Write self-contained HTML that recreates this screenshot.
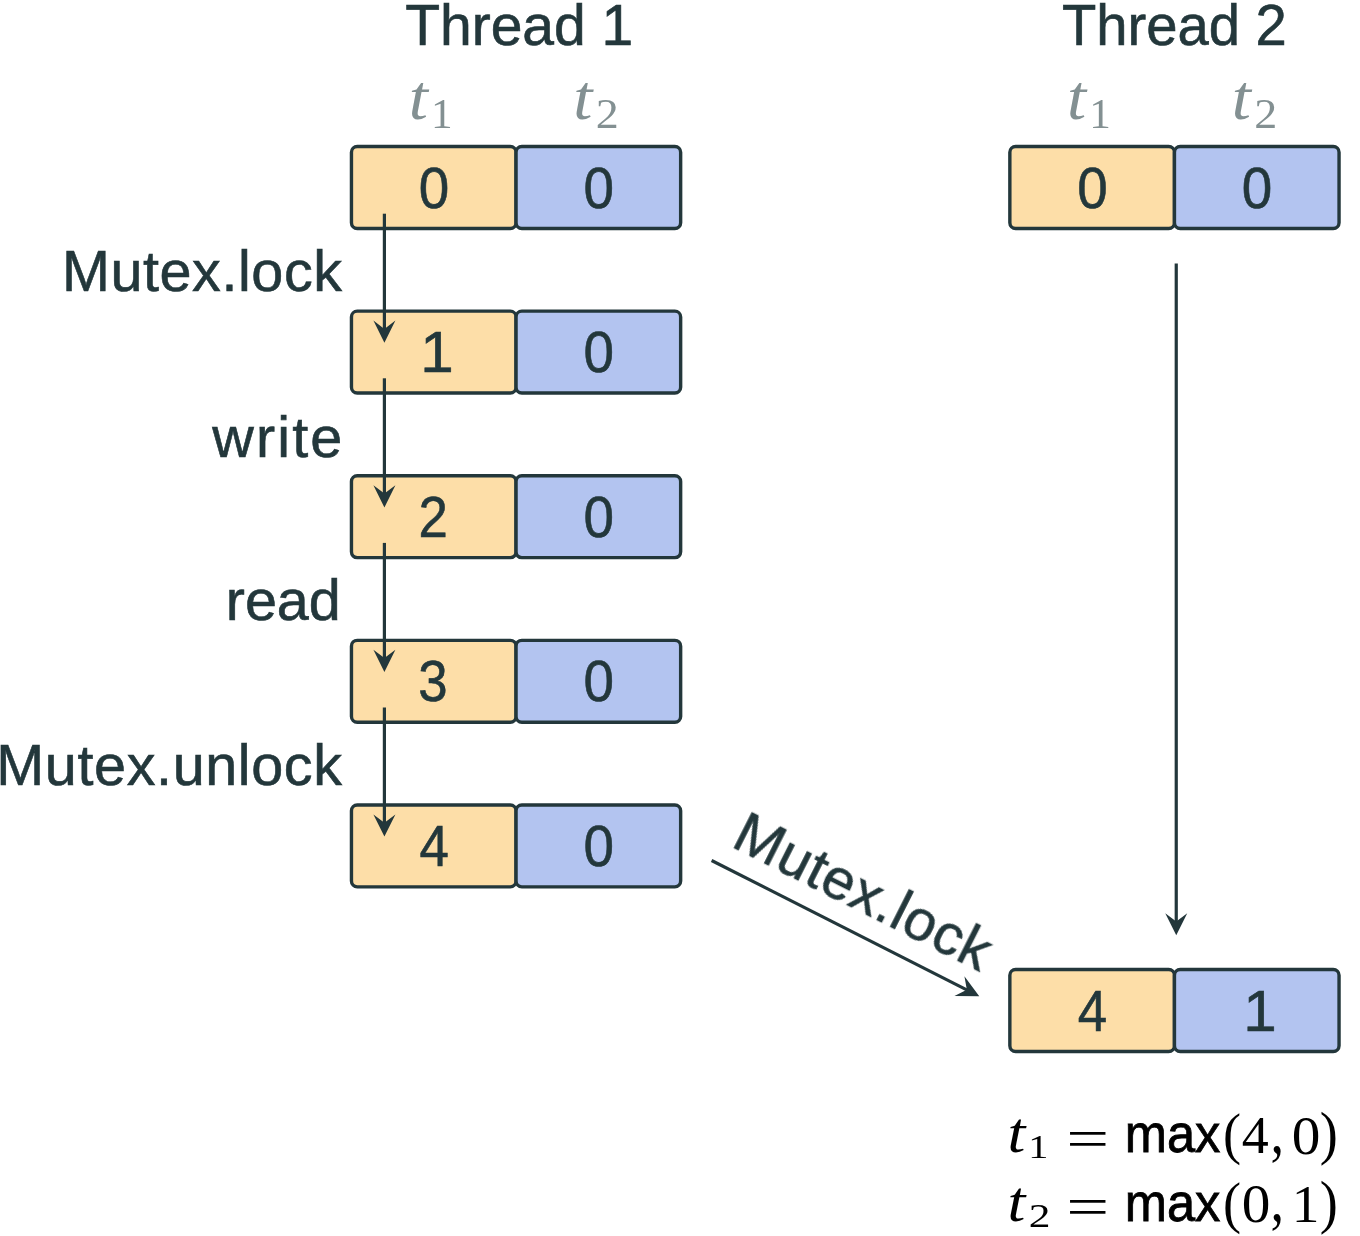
<!DOCTYPE html>
<html lang="en">
<head>
<meta charset="utf-8">
<title>Vector clocks with Mutex.lock</title>
<style>
html,body{margin:0;padding:0;background:#fff;}
body{width:1360px;height:1236px;overflow:hidden;}
svg{display:block;}
text{white-space:pre;}
.s{font-family:"Liberation Sans",sans-serif;font-size:57.5px;fill:#23373b;stroke:#23373b;stroke-width:0.6px;}
.mi{font-family:"Liberation Serif",serif;font-style:italic;}
.mr{font-family:"Liberation Serif",serif;}
</style>
</head>
<body>
<svg width="1360" height="1236" viewBox="0 0 1360 1236">
<rect x="0" y="0" width="1360" height="1236" fill="#ffffff"/>
<g id="shapes">
<rect x="351.45" y="146.55" width="164.60" height="81.90" rx="5.8" ry="5.8" fill="#fddea8" stroke="#23373b" stroke-width="3.4"/>
<rect x="516.05" y="146.55" width="164.60" height="81.90" rx="5.8" ry="5.8" fill="#b3c4f0" stroke="#23373b" stroke-width="3.4"/>
<rect x="351.45" y="311.15" width="164.60" height="81.90" rx="5.8" ry="5.8" fill="#fddea8" stroke="#23373b" stroke-width="3.4"/>
<rect x="516.05" y="311.15" width="164.60" height="81.90" rx="5.8" ry="5.8" fill="#b3c4f0" stroke="#23373b" stroke-width="3.4"/>
<rect x="351.45" y="475.75" width="164.60" height="81.90" rx="5.8" ry="5.8" fill="#fddea8" stroke="#23373b" stroke-width="3.4"/>
<rect x="516.05" y="475.75" width="164.60" height="81.90" rx="5.8" ry="5.8" fill="#b3c4f0" stroke="#23373b" stroke-width="3.4"/>
<rect x="351.45" y="640.35" width="164.60" height="81.90" rx="5.8" ry="5.8" fill="#fddea8" stroke="#23373b" stroke-width="3.4"/>
<rect x="516.05" y="640.35" width="164.60" height="81.90" rx="5.8" ry="5.8" fill="#b3c4f0" stroke="#23373b" stroke-width="3.4"/>
<rect x="351.45" y="804.95" width="164.60" height="81.90" rx="5.8" ry="5.8" fill="#fddea8" stroke="#23373b" stroke-width="3.4"/>
<rect x="516.05" y="804.95" width="164.60" height="81.90" rx="5.8" ry="5.8" fill="#b3c4f0" stroke="#23373b" stroke-width="3.4"/>
<rect x="1009.85" y="146.55" width="164.60" height="81.90" rx="5.8" ry="5.8" fill="#fddea8" stroke="#23373b" stroke-width="3.4"/>
<rect x="1174.45" y="146.55" width="164.60" height="81.90" rx="5.8" ry="5.8" fill="#b3c4f0" stroke="#23373b" stroke-width="3.4"/>
<rect x="1009.85" y="969.55" width="164.60" height="81.90" rx="5.8" ry="5.8" fill="#fddea8" stroke="#23373b" stroke-width="3.4"/>
<rect x="1174.45" y="969.55" width="164.60" height="81.90" rx="5.8" ry="5.8" fill="#b3c4f0" stroke="#23373b" stroke-width="3.4"/>
<g transform="translate(384.40 213.70) rotate(90.000)"><line x1="0" y1="0" x2="116.20" y2="0" stroke="#23373b" stroke-width="3.2"/><path d="M129.10 0 L106.90 -11.00 L115.20 0 L106.90 11.00 Z" fill="#23373b"/></g>
<g transform="translate(384.40 378.30) rotate(90.000)"><line x1="0" y1="0" x2="116.20" y2="0" stroke="#23373b" stroke-width="3.2"/><path d="M129.10 0 L106.90 -11.00 L115.20 0 L106.90 11.00 Z" fill="#23373b"/></g>
<g transform="translate(384.40 542.90) rotate(90.000)"><line x1="0" y1="0" x2="116.20" y2="0" stroke="#23373b" stroke-width="3.2"/><path d="M129.10 0 L106.90 -11.00 L115.20 0 L106.90 11.00 Z" fill="#23373b"/></g>
<g transform="translate(384.40 707.50) rotate(90.000)"><line x1="0" y1="0" x2="116.20" y2="0" stroke="#23373b" stroke-width="3.2"/><path d="M129.10 0 L106.90 -11.00 L115.20 0 L106.90 11.00 Z" fill="#23373b"/></g>
<g transform="translate(1176.25 263.50) rotate(90.000)"><line x1="0" y1="0" x2="658.95" y2="0" stroke="#23373b" stroke-width="3.2"/><path d="M671.85 0 L649.65 -11.00 L657.95 0 L649.65 11.00 Z" fill="#23373b"/></g>
<g transform="translate(711.60 860.50) rotate(26.877)"><line x1="0" y1="0" x2="287.16" y2="0" stroke="#23373b" stroke-width="3.2"/><path d="M300.06 0 L277.86 -11.00 L286.16 0 L277.86 11.00 Z" fill="#23373b"/></g>
</g>
<g id="labels" style="will-change:opacity">
<text class="s" transform="matrix(0.9915 0 0 1.0000 405.16 44.50)">Thread 1</text>
<text class="s" transform="matrix(0.9773 0 0 1.0000 1061.93 44.50)">Thread 2</text>
<text class="s" transform="matrix(1.0000 0 0 1.0000 61.94 291.10)" style="letter-spacing:0.58px">Mutex.lock</text>
<text class="s" transform="matrix(1.0000 0 0 1.0000 212.37 457.00)" style="letter-spacing:2.13px">write</text>
<text class="s" transform="matrix(0.9994 0 0 1.0000 225.75 620.40)">read</text>
<text class="s" transform="matrix(1.0000 0 0 1.0000 -3.71 784.80)" style="letter-spacing:0.63px">Mutex.unlock</text>
<text class="s" transform="translate(733.70 847.90) rotate(26.75) matrix(1.0000 0 0 1.0000 -4.31 0)" style="letter-spacing:0.54px">Mutex.lock</text>
<text class="s" transform="matrix(0.9529 0 0 1.0000 418.83 207.50)">0</text>
<text class="s" transform="matrix(0.9529 0 0 1.0000 583.43 207.50)">0</text>
<text class="s" transform="matrix(1.0463 0 0 1.0000 420.18 372.10)">1</text>
<text class="s" transform="matrix(0.9529 0 0 1.0000 583.43 372.10)">0</text>
<text class="s" transform="matrix(0.9177 0 0 1.0000 418.38 536.70)">2</text>
<text class="s" transform="matrix(0.9529 0 0 1.0000 583.43 536.70)">0</text>
<text class="s" transform="matrix(0.9170 0 0 1.0000 418.32 701.30)">3</text>
<text class="s" transform="matrix(0.9529 0 0 1.0000 583.43 701.30)">0</text>
<text class="s" transform="matrix(0.9189 0 0 1.0000 419.38 865.90)">4</text>
<text class="s" transform="matrix(0.9529 0 0 1.0000 583.43 865.90)">0</text>
<text class="s" transform="matrix(0.9529 0 0 1.0000 1077.23 207.50)">0</text>
<text class="s" transform="matrix(0.9529 0 0 1.0000 1241.83 207.50)">0</text>
<text class="s" transform="matrix(0.9189 0 0 1.0000 1077.78 1030.50)">4</text>
<text class="s" transform="matrix(1.0463 0 0 1.0000 1243.18 1030.50)">1</text>
<text class="mi" transform="matrix(1.1109 0 0 1.0218 408.69 119.44)" style="font-size:62px;fill:#839092">t</text>
<text class="mr" transform="matrix(1.0063 0 0 0.9981 430.92 127.90)" style="font-size:43px;fill:#839092">1</text>
<text class="mi" transform="matrix(1.1109 0 0 1.0218 573.29 119.44)" style="font-size:62px;fill:#839092">t</text>
<text class="mr" transform="matrix(1.0717 0 0 0.9964 595.85 127.90)" style="font-size:43px;fill:#839092">2</text>
<text class="mi" transform="matrix(1.1109 0 0 1.0218 1067.09 119.44)" style="font-size:62px;fill:#839092">t</text>
<text class="mr" transform="matrix(1.0063 0 0 0.9981 1089.32 127.90)" style="font-size:43px;fill:#839092">1</text>
<text class="mi" transform="matrix(1.1109 0 0 1.0218 1231.69 119.44)" style="font-size:62px;fill:#839092">t</text>
<text class="mr" transform="matrix(1.0717 0 0 0.9964 1254.25 127.90)" style="font-size:43px;fill:#839092">2</text>
<text class="mi" transform="matrix(1.1076 0 0 0.9802 1007.47 1151.95)" style="font-size:58px;fill:#000000">t</text>
<text class="mr" transform="matrix(1.1208 0 0 0.9458 1028.33 1158.20)" style="font-size:36px;fill:#000000">1</text>
<text class="mr" transform="matrix(1.2693 0 0 0.9067 1066.29 1156.68)" style="font-size:60px;fill:#000000">=</text>
<text class="s" transform="matrix(0.9375 0 0 0.9883 1124.73 1152.26)" style="font-size:54px;fill:#000000;stroke:#000000;stroke-width:0.8px">max</text>
<text class="mr" transform="matrix(0.9197 0 0 0.9812 1222.99 1153.30)" style="font-size:59px;fill:#000000">(</text>
<text class="mr" transform="matrix(0.9648 0 0 0.9474 1241.83 1152.90)" style="font-size:56px;fill:#000000">4</text>
<text class="mr" transform="matrix(0.9354 0 0 1.1465 1270.52 1152.51)" style="font-size:58px;fill:#000000">,</text>
<text class="mr" transform="matrix(1.0230 0 0 0.9658 1291.87 1153.55)" style="font-size:56px;fill:#000000">0</text>
<text class="mr" transform="matrix(0.9209 0 0 0.9873 1319.84 1153.31)" style="font-size:59px;fill:#000000">)</text>
<text class="mi" transform="matrix(1.1076 0 0 0.9802 1007.47 1220.75)" style="font-size:58px;fill:#000000">t</text>
<text class="mr" transform="matrix(1.2068 0 0 0.9417 1028.66 1227.00)" style="font-size:36px;fill:#000000">2</text>
<text class="mr" transform="matrix(1.2693 0 0 0.9067 1066.29 1225.48)" style="font-size:60px;fill:#000000">=</text>
<text class="s" transform="matrix(0.9375 0 0 0.9883 1124.73 1221.06)" style="font-size:54px;fill:#000000;stroke:#000000;stroke-width:0.8px">max</text>
<text class="mr" transform="matrix(0.9197 0 0 0.9812 1222.99 1222.10)" style="font-size:59px;fill:#000000">(</text>
<text class="mr" transform="matrix(1.0230 0 0 0.9658 1241.77 1222.35)" style="font-size:56px;fill:#000000">0</text>
<text class="mr" transform="matrix(0.9354 0 0 1.1465 1270.52 1221.31)" style="font-size:58px;fill:#000000">,</text>
<text class="mr" transform="matrix(0.9896 0 0 0.9474 1291.63 1221.70)" style="font-size:56px;fill:#000000">1</text>
<text class="mr" transform="matrix(0.9209 0 0 0.9873 1319.84 1222.11)" style="font-size:59px;fill:#000000">)</text>
</g>
</svg>
</body>
</html>
